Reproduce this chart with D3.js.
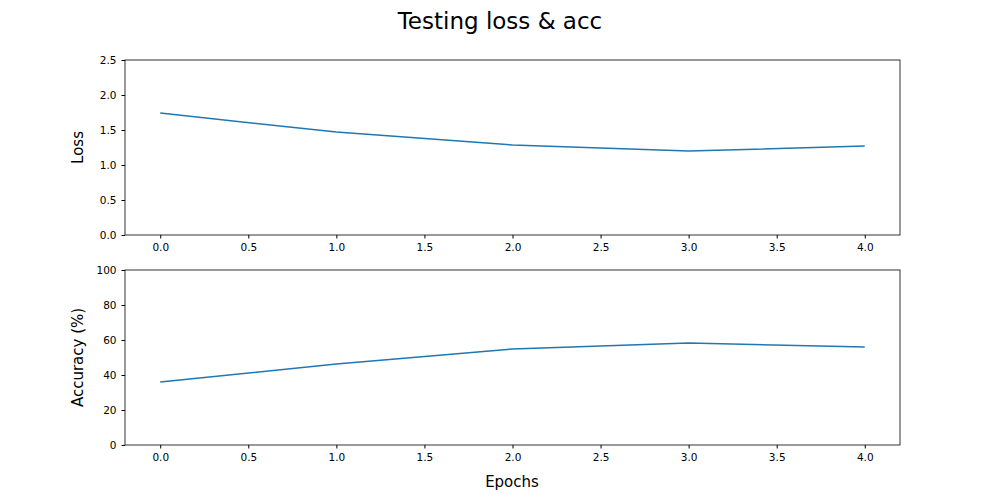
<!DOCTYPE html>
<html lang="en">
<head>
<meta charset="UTF-8">
<title>Testing loss & acc</title>
<script src="https://cdn.jsdelivr.net/npm/d3@7"></script>
<style>
    body{ margin:0; background:#fff; }
    text{ font-family:"DejaVu Sans", sans-serif; }
</style>
</head>
<body>
<script>
    const epochs = [0, 1, 2, 3, 4]
    const loss = [1.743, 1.47, 1.286, 1.2, 1.27]
    const acc = [36.0, 46.3, 54.9, 58.3, 56.0]
    const xTicks = [0, 0.5, 1, 1.5, 2, 2.5, 3, 3.5, 4]
    const lossTicks = [0, 0.5, 1, 1.5, 2, 2.5]
    const accTicks = [0, 20, 40, 60, 80, 100]

    const width = 1000, height = 500
    const svg = d3.select("body").append("svg")
        .attr("width", width).attr("height", height)

    svg.append("text").attr("x", 500).attr("y", 29)
        .attr("text-anchor", "middle").attr("font-size", 23)
        .text("Testing loss & acc")

    const x = d3.scaleLinear().domain([-0.2, 4.2]).range([125, 900])

    function panel(top, bottom, yDomain, yTicks, yFmt, values, label, showXLabel){
        const y = d3.scaleLinear().domain(yDomain).range([bottom, top])
        const g = svg.append("g")

        g.append("g").attr("transform", `translate(0,${bottom})`)
            .call(d3.axisBottom(x).tickValues(xTicks).tickFormat(d3.format(".1f")).tickSizeOuter(0).tickSize(3.5).tickPadding(5))
        g.append("g").attr("transform", `translate(125,0)`)
            .call(d3.axisLeft(y).tickValues(yTicks).tickFormat(yFmt).tickSizeOuter(0).tickSize(3.5).tickPadding(5))
        g.selectAll(".tick text").attr("font-size", 10.5).attr("fill", "#000")
            .style("font-family", "DejaVu Sans")
        g.selectAll(".domain").remove()

        g.append("rect").attr("x", 125).attr("y", top)
            .attr("width", 775).attr("height", bottom - top)
            .attr("fill", "none").attr("stroke", "#000").attr("stroke-width", 0.8)

        g.append("path").datum(epochs)
            .attr("fill", "none").attr("stroke", "#1f77b4").attr("stroke-width", 1.5)
            .attr("d", d3.line().x(d => x(d)).y((d, i) => y(values[i])))

        g.append("text")
            .attr("transform", `translate(83,${(top + bottom) / 2}) rotate(-90)`)
            .attr("text-anchor", "middle").attr("font-size", 15).text(label)

        if (showXLabel) {
            g.append("text").attr("x", 512).attr("y", 487)
                .attr("text-anchor", "middle").attr("font-size", 15).text("Epochs")
        }
    }

    panel(60, 235, [0, 2.5], lossTicks, d3.format(".1f"), loss, "Loss", false)
    panel(270, 445, [0, 100], accTicks, d3.format("d"), acc, "Accuracy (%)", true)
</script>
</body>
</html>
